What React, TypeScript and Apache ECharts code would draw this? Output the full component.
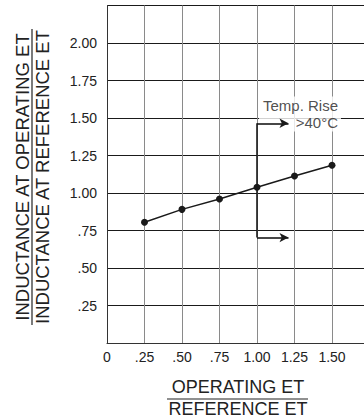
import React, { useEffect, useRef } from "react";
import * as echarts from "echarts";

// ---- data ----
const xValues = [0.25, 0.5, 0.75, 1.0, 1.25, 1.5];
const yValues = [0.805, 0.891, 0.96, 1.038, 1.113, 1.185];
const xTickValues = [0, 0.25, 0.5, 0.75, 1.0, 1.25, 1.5];
const yTickValues = [0.25, 0.5, 0.75, 1.0, 1.25, 1.5, 1.75, 2.0];
const bracketX = [1.0];
const bracketY = [1.465, 0.703];
const arrowEndX = [1.21];
const noteCoord = [1.56, 1.527];
const noteLines = ["Temp. Rise", ">40°C"];
const yTitleLines = ["INDUCTANCE AT OPERATING ET", "INDUCTANCE AT REFERENCE ET"];
const xTitleLines = ["OPERATING ET", "REFERENCE ET"];

const FONT = "'Liberation Sans', Arial, sans-serif";
const INK = "#222";

function fmt(v: number): string {
  if (v === 0) return "0";
  const s = v.toFixed(2);
  return s.startsWith("0") ? s.slice(1) : s;
}

export default function App() {
  const ref = useRef<HTMLDivElement>(null);
  useEffect(() => {
    if (!ref.current) return;
    const chart = echarts.init(ref.current, null, { renderer: "svg" });
    const near = (a: number, list: number[]) => list.some((b) => Math.abs(a - b) < 1e-6);
    const option: any = {
      animation: false,
      backgroundColor: "#fff",
      grid: {
        left: 107,
        top: 5.5,
        width: 262.5,
        height: 337.5,
        containLabel: false,
        outerBoundsMode: "none",
      },
      xAxis: {
        type: "value",
        min: 0,
        max: 1.75,
        interval: 0.25,
        axisLine: { show: true, onZero: false, lineStyle: { color: "#333", width: 1 } },
        axisTick: { show: false },
        axisLabel: {
          margin: 7,
          fontSize: 14,
          fontFamily: FONT,
          color: INK,
          formatter: (v: number) => (near(v, xTickValues) ? fmt(v) : ""),
        },
        splitLine: { show: true, lineStyle: { color: "#8a8a8a", width: 1 } },
      },
      yAxis: {
        type: "value",
        min: 0,
        max: 2.25,
        interval: 0.25,
        axisLine: { show: true, onZero: false, lineStyle: { color: "#333", width: 1 } },
        axisTick: { show: false },
        axisLabel: {
          margin: 10,
          fontSize: 14,
          fontFamily: FONT,
          color: INK,
          formatter: (v: number) => (near(v, yTickValues) ? fmt(v) : ""),
        },
        splitLine: { show: true, lineStyle: { color: "#1a1a1a", width: 1 } },
      },
      series: [
        {
          type: "scatter",
          z: 2,
          silent: true,
          symbolSize: 0,
          data: [noteCoord],
          label: {
            show: true,
            position: "left",
            distance: 0,
            formatter: noteLines.join("\n"),
            align: "right",
            verticalAlign: "middle",
            backgroundColor: "#fff",
            padding: [1, 3, 1, 4],
            fontSize: 15,
            lineHeight: 16.5,
            fontFamily: FONT,
            color: INK,
          },
        },
        {
          type: "line",
          z: 3,
          data: xValues.map((x, i) => [x, yValues[i]]),
          symbol: "circle",
          symbolSize: 7,
          lineStyle: { color: "#1a1a1a", width: 1.5 },
          itemStyle: { color: "#1a1a1a" },
          markLine: {
            silent: true,
            symbol: ["none", "none"],
            symbolSize: [7, 9],
            label: { show: false },
            lineStyle: { color: "#1a1a1a", width: 1.6, type: "solid" },
            data: [
              [
                { coord: [bracketX[0], bracketY[0]], symbol: "none" },
                { coord: [bracketX[0], bracketY[1]], symbol: "none" },
              ],
              [
                { coord: [bracketX[0], bracketY[0]], symbol: "none" },
                { coord: [arrowEndX[0], bracketY[0]], symbol: "arrow", symbolSize: [7, 9] },
              ],
              [
                { coord: [bracketX[0], bracketY[1]], symbol: "none" },
                { coord: [arrowEndX[0], bracketY[1]], symbol: "arrow", symbolSize: [7, 9] },
              ],
            ],
          },
        },
      ],
      graphic: [
        {
          type: "text",
          x: 22,
          y: 177,
          rotation: Math.PI / 2,
          style: { text: yTitleLines[0], font: `18.5px ${FONT}`, fill: INK, align: "center", verticalAlign: "middle" },
        },
        {
          type: "text",
          x: 42,
          y: 177,
          rotation: Math.PI / 2,
          style: { text: yTitleLines[1], font: `18.5px ${FONT}`, fill: INK, align: "center", verticalAlign: "middle" },
        },
        {
          type: "line",
          shape: { x1: 32, y1: 29, x2: 32, y2: 325 },
          style: { stroke: INK, lineWidth: 1.2 },
        },
        {
          type: "text",
          x: 238,
          y: 387,
          style: { text: xTitleLines[0], font: `18px ${FONT}`, fill: INK, align: "center", verticalAlign: "middle" },
        },
        {
          type: "line",
          shape: { x1: 167, y1: 399, x2: 308, y2: 399 },
          style: { stroke: INK, lineWidth: 1.2 },
        },
        {
          type: "text",
          x: 238,
          y: 408.5,
          style: { text: xTitleLines[1], font: `18px ${FONT}`, fill: INK, align: "center", verticalAlign: "middle" },
        },
      ],
    };
    chart.setOption(option);
    return () => chart.dispose();
  }, []);
  return (
    <div
      ref={ref}
      style={{ position: "fixed", left: 0, top: 0, width: 364, height: 418, overflow: "hidden" }}
    />
  );
}
